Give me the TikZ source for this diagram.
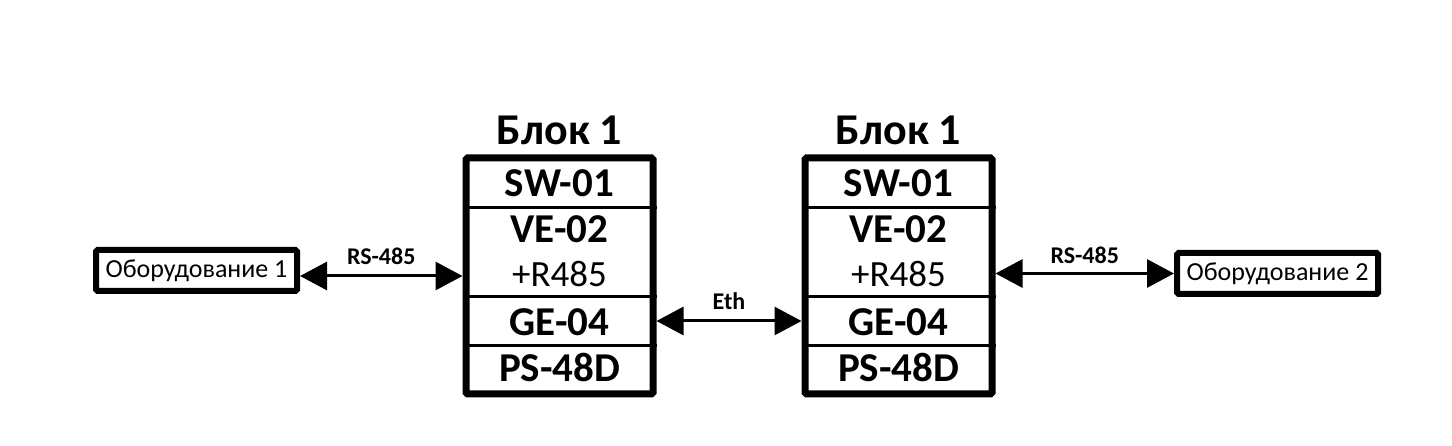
\documentclass[tikz,border=0pt]{standalone}
\usepackage{fontspec}
\setmainfont{Carlito}
\usetikzlibrary{arrows.meta}
\begin{document}
\begin{tikzpicture}[x=1pt,y=-1pt,
  block/.style={draw, line width=7pt, rounded corners=1.5pt, minimum width=187pt, minimum height=236pt, inner sep=0pt},
  equip/.style={draw, line width=6pt, rounded corners=1.5pt, minimum width=201pt, minimum height=41pt, inner sep=0pt, font=\fontsize{26}{28}\selectfont},
  divider/.style={line width=3pt},
  title/.style={anchor=base, font=\bfseries\fontsize{44}{48}\selectfont},
  mod/.style={anchor=base, font=\bfseries\fontsize{41}{44}\selectfont},
  modr/.style={anchor=base, font=\fontsize{37}{40}\selectfont},
  link/.style={line width=3pt, {Triangle[length=27pt,width=28pt]}-{Triangle[length=27pt,width=28pt]}},
  lbl/.style={anchor=base, font=\bfseries\fontsize{24}{26}\selectfont}
]
\useasboundingbox (0,0) rectangle (1452,446);

% blocks
\node[block] (b1) at (559.5,276) {};
\node[block] (b2) at (898.5,276) {};

\foreach \b in {b1,b2}{
  \draw[divider] (\b.west |- 0,208) -- (\b.east |- 0,208);
  \draw[divider] (\b.west |- 0,297) -- (\b.east |- 0,297);
  \draw[divider] (\b.west |- 0,346) -- (\b.east |- 0,346);
}

\node[title] (t1) at (559.5,145) {Блок 1};
\node[title] (t2) at (898.5,145) {Блок 1};

\node[mod] (sw1) at (559.5,197) {SW-01};
\node[mod] (ve1) at (559.5,243) {VE-02};
\node[modr] (r1) at (559.5,287) {+R485};
\node[mod] (ge1) at (559.5,336) {GE-04};
\node[mod] (ps1) at (559.5,382) {PS-48D};

\node[mod] (sw2) at (898.5,197) {SW-01};
\node[mod] (ve2) at (898.5,243) {VE-02};
\node[modr] (r2) at (898.5,287) {+R485};
\node[mod] (ge2) at (898.5,336) {GE-04};
\node[mod] (ps2) at (898.5,382) {PS-48D};

% equipment
\node[equip] (eq1) at (196.5,270.5) {Оборудование 1};
\node[equip] (eq2) at (1277.5,273.5) {Оборудование 2};

% connectors
\coordinate (y1) at (0,276);
\coordinate (y2) at (0,321);
\draw[link] (eq1.east |- y1) -- node[lbl, midway, yshift=11pt] {RS-485} (b1.west |- y1);
\draw[link] (b1.east |- y2) -- node[lbl, midway, yshift=11pt] {Eth} (b2.west |- y2);
\draw[link] (b2.east |- eq2.west) -- node[lbl, midway, yshift=10pt] {RS-485} (eq2.west);
\end{tikzpicture}
\end{document}
